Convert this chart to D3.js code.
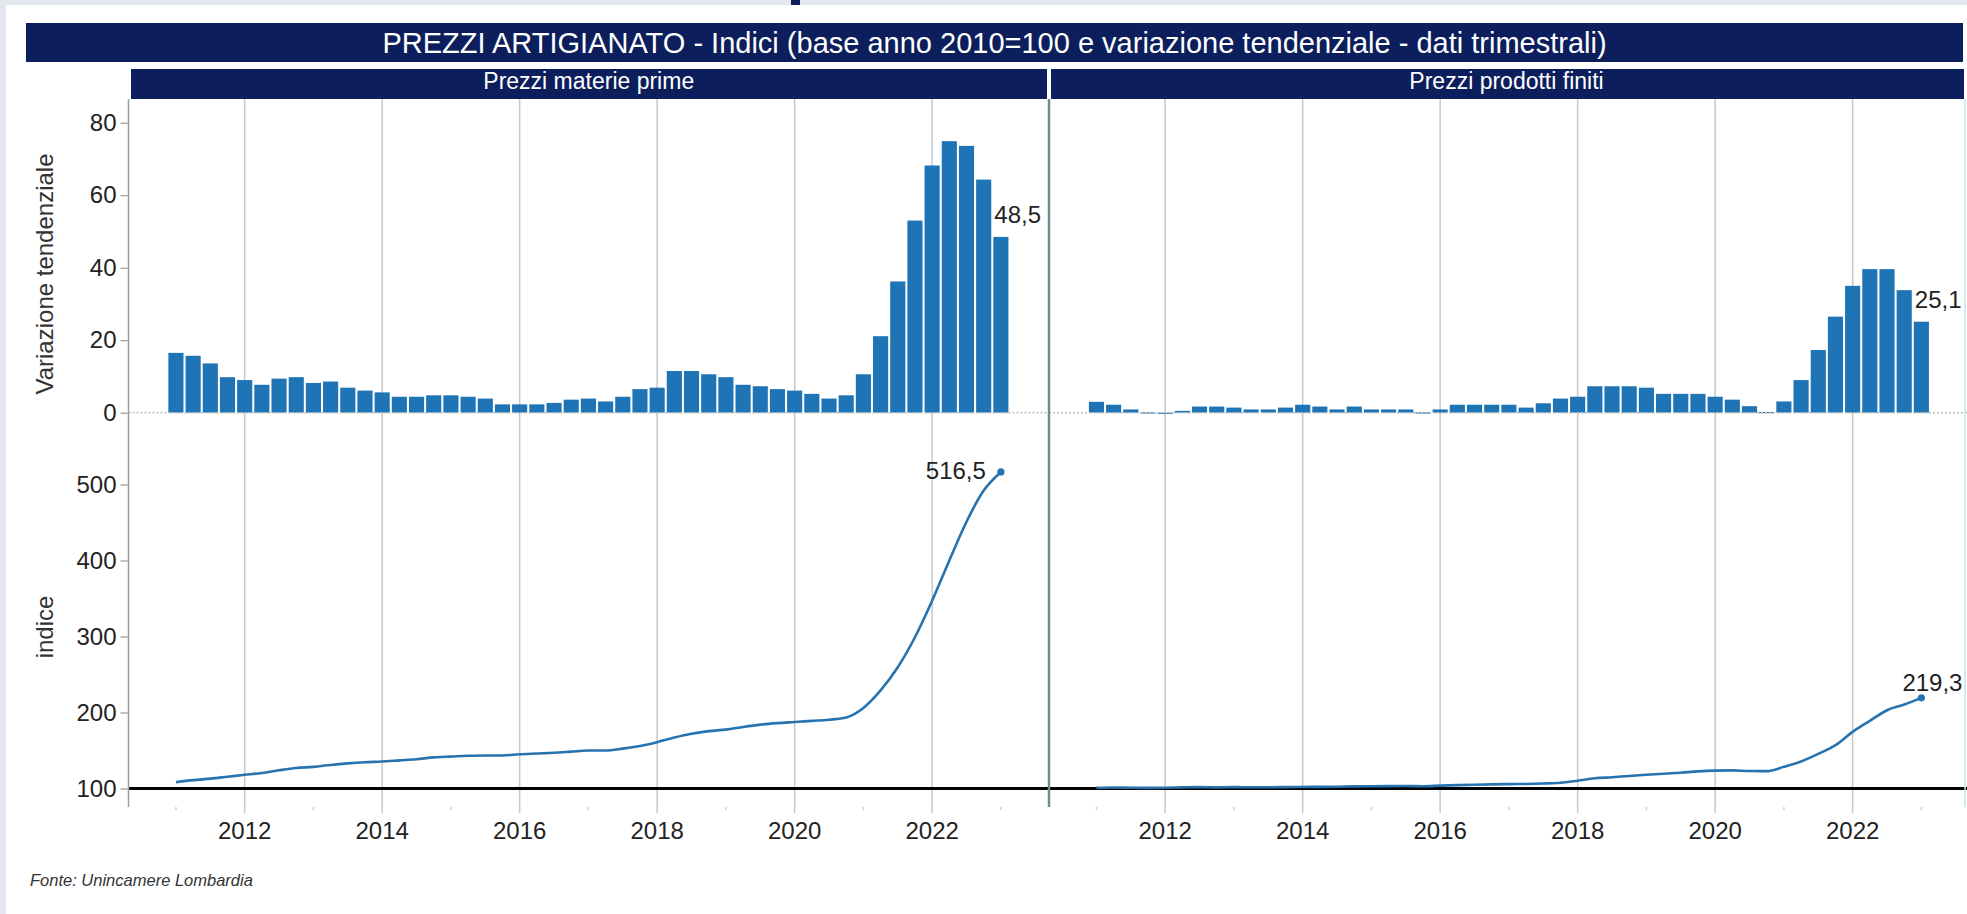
<!DOCTYPE html>
<html>
<head>
<meta charset="utf-8">
<script src="https://cdn.jsdelivr.net/npm/d3@7/dist/d3.min.js"></script>
<style>
  html, body { margin: 0; padding: 0; background: #e3e7ef; }
  svg { display: block; }
  text { font-family: "Liberation Sans", Arial, Helvetica, sans-serif; }
</style>
</head>
<body>
<svg id="chart" width="1967" height="914"></svg>
<script>
// ---- data: quarterly observations, 2011 T1 .. 2023 T1 ----
const quarters = [
  "2011 T1","2011 T2","2011 T3","2011 T4",
  "2012 T1","2012 T2","2012 T3","2012 T4",
  "2013 T1","2013 T2","2013 T3","2013 T4",
  "2014 T1","2014 T2","2014 T3","2014 T4",
  "2015 T1","2015 T2","2015 T3","2015 T4",
  "2016 T1","2016 T2","2016 T3","2016 T4",
  "2017 T1","2017 T2","2017 T3","2017 T4",
  "2018 T1","2018 T2","2018 T3","2018 T4",
  "2019 T1","2019 T2","2019 T3","2019 T4",
  "2020 T1","2020 T2","2020 T3","2020 T4",
  "2021 T1","2021 T2","2021 T3","2021 T4",
  "2022 T1","2022 T2","2022 T3","2022 T4",
  "2023 T1"
];

// variazione tendenziale (%)
const varMaterie = [
  16.5, 15.7, 13.6, 9.8,
  9.0, 7.7, 9.4, 9.8,
  8.2, 8.6, 6.9, 6.1,
  5.6, 4.4, 4.4, 4.8,
  4.8, 4.4, 3.9, 2.3,
  2.3, 2.3, 2.7, 3.6,
  3.9, 3.1, 4.4, 6.5,
  6.9, 11.5, 11.5, 10.6,
  9.8, 7.7, 7.3, 6.5,
  6.1, 5.2, 3.9, 4.8,
  10.6, 21.1, 36.2, 53.0,
  68.2, 74.9, 73.6, 64.3,
  48.5
];
const varProdotti = [
  3.0, 2.2, 0.9, 0.1,
  -0.1, 0.5, 1.7, 1.7,
  1.4, 0.9, 0.9, 1.4,
  2.2, 1.7, 0.9, 1.7,
  0.9, 0.9, 0.9, 0.1,
  0.9, 2.2, 2.2, 2.2,
  2.2, 1.4, 2.6, 3.9,
  4.4, 7.3, 7.3, 7.3,
  6.9, 5.2, 5.2, 5.2,
  4.4, 3.6, 1.8, 0.2,
  3.1, 9.0, 17.3, 26.5,
  35.0, 39.6, 39.6, 33.8,
  25.1
];

// indici (base anno 2010 = 100)
const idxMaterie = [
  108.3, 111.0, 113.0, 115.5,
  118.0, 120.5, 124.0, 127.0,
  128.5, 131.0, 133.0, 134.5,
  135.5, 137.0, 138.5, 141.0,
  142.0, 143.0, 143.5, 143.5,
  145.0, 146.0, 147.0, 148.5,
  150.0, 150.0, 152.5, 156.0,
  161.0, 167.0, 172.0, 175.5,
  177.5, 181.0, 184.0, 186.0,
  187.5, 189.0, 190.5, 193.5,
  206.0, 229.0, 259.5, 299.0,
  347.0, 400.0, 451.0, 492.0,
  516.5
];
const idxProdotti = [
  101.0, 101.3, 101.0, 100.8,
  101.0, 101.5, 101.8, 101.5,
  101.8, 101.6, 101.6, 101.8,
  102.0, 102.2, 102.4, 102.8,
  103.0, 103.1, 103.3, 103.0,
  103.8, 104.5, 105.0, 105.4,
  105.8, 106.0, 106.6, 107.5,
  110.3, 113.5, 114.8, 116.5,
  118.0, 119.5, 120.8, 122.5,
  123.5, 123.8, 123.0, 122.8,
  128.5, 135.5, 145.5, 157.0,
  174.5, 189.0, 203.0, 210.5,
  219.3
];

const panelTitles = ["Prezzi materie prime", "Prezzi prodotti finiti"];
const chartTitle = "PREZZI ARTIGIANATO - Indici (base anno 2010=100 e variazione tendenziale - dati trimestrali)";
const sourceNote = "Fonte: Unincamere Lombardia";
const yearTicks = [2012, 2014, 2016, 2018, 2020, 2022];
const minorYearTicks = [2011, 2013, 2015, 2017, 2019, 2021, 2023];
const varTicks = [0, 20, 40, 60, 80];
const idxTicks = [100, 200, 300, 400, 500];

// ---- helpers ----
const itLocale = d3.formatLocale({ decimal: ",", thousands: ".", grouping: [3], currency: ["€", ""] });
const fmt1 = itLocale.format(".1f");
const toYear = q => +q.slice(0, 4) + (+q.slice(-1) - 1) / 4;

const panels = [
  { title: panelTitles[0], bars: varMaterie, index: idxMaterie },
  { title: panelTitles[1], bars: varProdotti, index: idxProdotti }
];

// ---- layout ----
const W = 1967, H = 914;
const axisX = 128.5, splitX = 1049, rightEdge = 1969.5;
const plotTop = 99, plotBottom = 807;
const navy = "#0c1f5c", barBlue = "#1f74b6", lineBlue = "#2773b0", ink = "#222";

const svg = d3.select("#chart");

// frame: bluish-grey margin with white sheet
svg.append("rect").attr("x", 0).attr("y", 0).attr("width", W).attr("height", H).attr("fill", "#e3e7ef");
svg.append("rect").attr("x", 6).attr("y", 5).attr("width", W - 6).attr("height", H - 5).attr("fill", "#ffffff");
svg.append("rect").attr("x", 791).attr("y", 0).attr("width", 9).attr("height", 5).attr("fill", navy);

// main title bar
svg.append("rect").attr("x", 26).attr("y", 23).attr("width", 1937).attr("height", 39).attr("fill", navy);
svg.append("text").attr("x", (26 + 1963) / 2).attr("y", 53)
  .attr("text-anchor", "middle").attr("fill", "#ffffff").attr("font-size", 29)
  .text(chartTitle);

// scales shared by the stacked panes
const yVar = d3.scaleLinear().domain([0, 80]).range([412.7, 122.7]);
const yIdx = d3.scaleLinear().domain([100, 500]).range([788.5, 484.5]);
const xDomain = [2010.31, 2023.70];
const xScales = [
  d3.scaleLinear().domain(xDomain).range([axisX, splitX]),
  d3.scaleLinear().domain(xDomain).range([splitX, rightEdge])
];

panels.forEach((p, i) => {
  const x = xScales[i];
  const g = svg.append("g");
  const x0 = x.range()[0], x1 = x.range()[1];

  // header band
  const bx0 = i === 0 ? 131 : splitX + 2;
  const bx1 = i === 0 ? splitX - 2 : 1964;
  g.append("rect").attr("x", bx0).attr("y", 69).attr("width", bx1 - bx0).attr("height", 30).attr("fill", navy);
  g.append("text").attr("x", (x0 + Math.min(x1, 1964)) / 2).attr("y", 89)
    .attr("text-anchor", "middle").attr("fill", "#ffffff").attr("font-size", 23)
    .text(p.title);

  // vertical year gridlines through both panes
  g.selectAll("line.grid").data(yearTicks).join("line")
    .attr("class", "grid")
    .attr("x1", d => x(d)).attr("x2", d => x(d))
    .attr("y1", plotTop).attr("y2", 813)
    .attr("stroke", "#c8c8c8").attr("stroke-width", 1.5);

  // minor ticks on odd years
  g.selectAll("line.minor").data(minorYearTicks).join("line")
    .attr("class", "minor")
    .attr("x1", d => x(d)).attr("x2", d => x(d))
    .attr("y1", plotBottom).attr("y2", plotBottom + 3)
    .attr("stroke", "#cfcfcf").attr("stroke-width", 1.5);

  // year labels
  g.selectAll("text.year").data(yearTicks).join("text")
    .attr("class", "year")
    .attr("x", d => x(d)).attr("y", 839)
    .attr("text-anchor", "middle").attr("font-size", 24).attr("fill", ink)
    .text(d => d);

  // bars: variazione tendenziale
  const pitch = x(2011.25) - x(2011);
  const bw = pitch * 0.88;
  g.selectAll("rect.bar").data(p.bars).join("rect")
    .attr("class", "bar")
    .attr("x", (d, k) => x(toYear(quarters[k])) - bw / 2)
    .attr("width", bw)
    .attr("y", d => Math.min(yVar(d), yVar(0)))
    .attr("height", d => Math.max(Math.abs(yVar(d) - yVar(0)), 1.2))
    .attr("fill", barBlue);

  // dotted zero reference
  g.append("line").attr("x1", x0).attr("x2", Math.min(x1, W))
    .attr("y1", yVar(0)).attr("y2", yVar(0))
    .attr("stroke", "#bdbdbd").attr("stroke-width", 1.5).attr("stroke-dasharray", "2,2");

  // base 100 reference
  g.append("line").attr("x1", x0).attr("x2", Math.min(x1, W))
    .attr("y1", yIdx(100)).attr("y2", yIdx(100))
    .attr("stroke", "#000").attr("stroke-width", 3);

  // index line
  const line = d3.line()
    .x((d, k) => x(toYear(quarters[k])))
    .y(d => yIdx(d))
    .curve(d3.curveMonotoneX);
  g.append("path").datum(p.index).attr("d", line)
    .attr("fill", "none").attr("stroke", lineBlue).attr("stroke-width", 2.6);

  const last = p.index.length - 1;
  const lx = x(toYear(quarters[last]));
  g.append("circle").attr("cx", lx).attr("cy", yIdx(p.index[last])).attr("r", 3.6).attr("fill", lineBlue);

  // last-value labels
  const bLast = p.bars[last];
  g.append("text").attr("x", lx - bw / 2 + 1).attr("y", yVar(bLast) - 14)
    .attr("font-size", 24).attr("fill", ink).text(fmt1(bLast));

  if (i === 0) {
    g.append("text").attr("x", lx - 15).attr("y", yIdx(p.index[last]) + 7)
      .attr("text-anchor", "end").attr("font-size", 24).attr("fill", ink)
      .text(fmt1(p.index[last]));
  } else {
    g.append("text").attr("x", lx - 19).attr("y", yIdx(p.index[last]) - 7)
      .attr("font-size", 24).attr("fill", ink)
      .text(fmt1(p.index[last]));
  }
});

// left value axes
const axVar = d3.axisLeft(yVar).tickValues(varTicks).tickSize(8).tickPadding(4);
const axIdx = d3.axisLeft(yIdx).tickValues(idxTicks).tickSize(8).tickPadding(4);
[axVar, axIdx].forEach(ax => {
  const a = svg.append("g").attr("transform", `translate(${axisX},0)`).call(ax);
  a.select(".domain").remove();
  a.selectAll(".tick line").attr("stroke", "#9a9a9a").attr("stroke-width", 1.2);
  a.selectAll(".tick text").attr("font-size", 24).attr("fill", ink)
    .attr("font-family", "\"Liberation Sans\", Arial, sans-serif");
});
svg.append("line").attr("x1", axisX).attr("x2", axisX).attr("y1", plotTop).attr("y2", plotBottom)
  .attr("stroke", "#8fa3a3").attr("stroke-width", 1.5);

// axis titles
svg.append("text").attr("transform", "translate(53,274) rotate(-90)")
  .attr("text-anchor", "middle").attr("font-size", 24).attr("fill", "#333")
  .text("Variazione tendenziale");
svg.append("text").attr("transform", "translate(53,627) rotate(-90)")
  .attr("text-anchor", "middle").attr("font-size", 24).attr("fill", "#333")
  .text("indice");

// pane separator and right border
svg.append("line").attr("x1", splitX).attr("x2", splitX).attr("y1", plotTop).attr("y2", plotBottom)
  .attr("stroke", "#6a8f90").attr("stroke-width", 2.5);
svg.append("line").attr("x1", 1965).attr("x2", 1965).attr("y1", plotTop).attr("y2", plotBottom)
  .attr("stroke", "#c3e4ee").attr("stroke-width", 1.5);

// source
svg.append("text").attr("x", 30).attr("y", 886)
  .attr("font-size", 16.5).attr("font-style", "italic").attr("fill", "#333")
  .text(sourceNote);
</script>
</body>
</html>
